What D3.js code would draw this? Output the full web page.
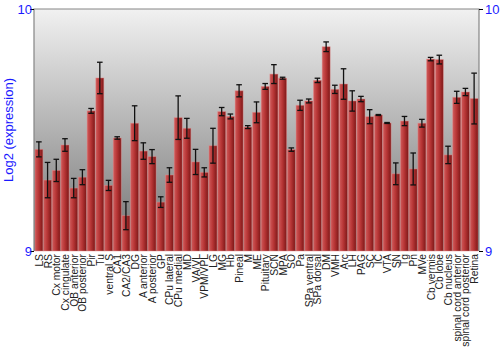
<!DOCTYPE html>
<html lang="en">
<head>
    <meta charset="UTF-8">
    <title>Log2 expression by region</title>
    <script src="https://d3js.org/d3.v7.min.js"></script>
    <style>
        body { margin: 0; background: #fff; }
        svg { display: block; font-family: "Liberation Sans", Arial, sans-serif; }
    </style>
</head>
<body>
    <div id="chart"></div>
    <script>
        // Regions, mean log2 expression and error
        const regions = ["LS", "RS", "Cx motor", "Cx cingulate", "OB anterior", "OB posterior", "Pir", "Tu",
            "ventral S", "CA1", "CA2/CA3", "DG", "A anterior", "A posterior", "GP", "CPu lateral", "CPu medial",
            "MD", "VA/VL", "VPM/VPL", "LG", "MG", "Hb", "Pineal", "M", "ME", "Pituitary", "SCN", "MPA", "SO",
            "Pa", "SPa ventral", "SPa dorsal", "DM", "VMH", "Arc", "LH", "PAG", "SC", "IC", "VTA", "SN", "Tg",
            "Pn", "MVe", "Cb vermis", "Cb lobe", "Cb nucleus", "spinal cord anterior", "spinal cord posterior",
            "Retina"];
        const values = [9.420, 9.293, 9.333, 9.438, 9.260, 9.305, 9.579, 9.715,
            9.271, 9.467, 9.146, 9.528, 9.413, 9.390, 9.202, 9.314, 9.551,
            9.507, 9.368, 9.325, 9.435, 9.576, 9.556, 9.662, 9.512, 9.573, 9.680, 9.731, 9.714, 9.419,
            9.602, 9.620, 9.705, 9.844, 9.668, 9.690, 9.620, 9.628, 9.555, 9.562, 9.529, 9.319, 9.537,
            9.339, 9.528, 9.793, 9.791, 9.397, 9.635, 9.657,
            9.630];
        const errors = [0.031, 0.073, 0.046, 0.026, 0.040, 0.031, 0.010, 0.065,
            0.021, 0.005, 0.058, 0.072, 0.034, 0.029, 0.022, 0.030, 0.090,
            0.041, 0.052, 0.019, 0.072, 0.017, 0.010, 0.025, 0.006, 0.043, 0.012, 0.039, 0.004, 0.007,
            0.021, 0.008, 0.009, 0.020, 0.017, 0.063, 0.042, 0.011, 0.029, 0.002, 0.002, 0.045, 0.019,
            0.066, 0.016, 0.007, 0.018, 0.036, 0.025, 0.015,
            0.105];
        const yTicks = [9, 10];

        const data = regions.map((r, i) => ({ region: r, value: values[i], err: errors[i] }));

        const width = 500;
        const height = 350;
        const margin = { top: 9, right: 21, bottom: 99, left: 34 };

        const svg = d3.select("#chart")
            .append("svg")
            .attr("width", width)
            .attr("height", height);

        const defs = svg.append("defs");

        // plot background: light grey at top, darker toward the bottom
        const bg = defs.append("linearGradient")
            .attr("id", "bg")
            .attr("x1", 0).attr("y1", 0).attr("x2", 0).attr("y2", 1);
        bg.append("stop").attr("offset", "0%").attr("stop-color", "#f1f1f1");
        bg.append("stop").attr("offset", "100%").attr("stop-color", "#727272");

        // bar fill: light left edge, dark right edge
        const barGrad = defs.append("linearGradient")
            .attr("id", "bar")
            .attr("x1", 0).attr("y1", 0).attr("x2", 1).attr("y2", 0);
        barGrad.append("stop").attr("offset", "0%").attr("stop-color", "#cf5a5a");
        barGrad.append("stop").attr("offset", "45%").attr("stop-color", "#b83636");
        barGrad.append("stop").attr("offset", "100%").attr("stop-color", "#7d1717");

        const x = d3.scaleBand()
            .domain(regions)
            .range([margin.left, width - margin.right])
            .paddingInner(0.08)
            .paddingOuter(0.1);

        const y = d3.scaleLinear()
            .domain([9, 10])
            .range([height - margin.bottom, margin.top]);

        // background
        svg.append("rect")
            .attr("x", margin.left)
            .attr("y", margin.top)
            .attr("width", width - margin.left - margin.right)
            .attr("height", height - margin.top - margin.bottom)
            .attr("fill", "url(#bg)");

        // bars
        svg.append("g")
            .selectAll("rect")
            .data(data)
            .join("rect")
            .attr("x", d => x(d.region))
            .attr("y", d => y(d.value))
            .attr("width", x.bandwidth())
            .attr("height", d => y(9) - y(d.value))
            .attr("fill", "url(#bar)")
            .attr("stroke", "rgba(230,140,140,0.55)")
            .attr("stroke-width", 0.8);

        // error bars
        const eb = svg.append("g")
            .attr("stroke", "#111")
            .attr("stroke-width", 1.3);
        const cap = 2.8;
        data.forEach(d => {
            const cx = x(d.region) + x.bandwidth() / 2;
            const y0 = y(d.value - d.err);
            const y1 = y(d.value + d.err);
            eb.append("line").attr("x1", cx).attr("x2", cx).attr("y1", y0).attr("y2", y1);
            eb.append("line").attr("x1", cx - cap).attr("x2", cx + cap).attr("y1", y0).attr("y2", y0);
            eb.append("line").attr("x1", cx - cap).attr("x2", cx + cap).attr("y1", y1).attr("y2", y1);
        });

        // frame: left, top, right
        svg.append("path")
            .attr("d", `M${margin.left},${height - margin.bottom}V${margin.top}H${width - margin.right}V${height - margin.bottom}`)
            .attr("fill", "none")
            .attr("stroke", "#858585")
            .attr("stroke-width", 1.2);

        // y axes on both sides
        const leftAxis = svg.append("g")
            .attr("transform", `translate(${margin.left},0)`)
            .call(d3.axisLeft(y).tickValues(yTicks).tickSize(4).tickFormat(d3.format("d")));
        const rightAxis = svg.append("g")
            .attr("transform", `translate(${width - margin.right},0)`)
            .call(d3.axisRight(y).tickValues(yTicks).tickSize(4).tickFormat(d3.format("d")));
        [leftAxis, rightAxis].forEach(a => {
            a.select(".domain").remove();
            a.selectAll(".tick line").attr("stroke", "#000");
            a.selectAll(".tick text")
                .attr("fill", "#1a1aff")
                .attr("font-size", 13)
                .attr("font-family", "'Liberation Sans', Arial, sans-serif");
        });
        leftAxis.selectAll(".tick text").attr("x", -2);
        rightAxis.selectAll(".tick text").attr("x", 6);

        // y label
        svg.append("text")
            .attr("transform", `translate(13,${(margin.top + height - margin.bottom) / 2}) rotate(-90)`)
            .attr("text-anchor", "middle")
            .attr("fill", "#1a1aff")
            .attr("font-size", 13)
            .text("Log2 (expression)");

        // category labels
        svg.append("g")
            .selectAll("text")
            .data(regions)
            .join("text")
            .attr("transform", d => `translate(${x(d) + x.bandwidth() / 2 + 4},${height - margin.bottom + 3}) rotate(-90)`)
            .attr("text-anchor", "end")
            .attr("fill", "#222")
            .attr("font-size", 10.3)
            .text(d => d);
    </script>
</body>
</html>
